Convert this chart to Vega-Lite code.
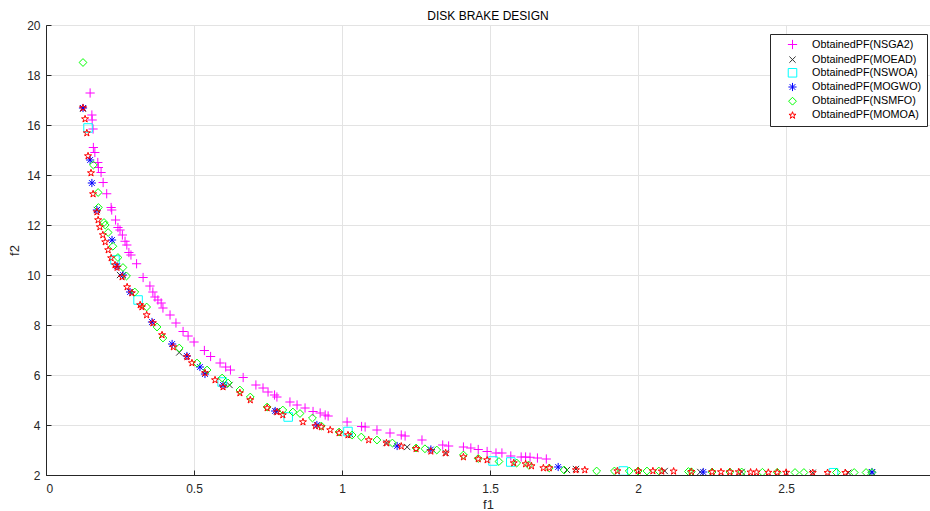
{
  "$schema": "https://vega.github.io/schema/vega-lite/v6.json",
  "width": 884,
  "height": 450,
  "autosize": {"type": "none"},
  "padding": {"left": 46, "top": 25, "right": 0, "bottom": 36},
  "background": "white",
  "title": {"text": "DISK BRAKE DESIGN", "fontSize": 12, "fontWeight": "normal", "font": "Liberation Sans", "color": "#000000", "offset": -4},
  "config": {
    "view": {"stroke": "#262626", "strokeWidth": 1},
    "font": "Liberation Sans",
    "axis": {"gridColor": "#e3e3e3", "gridWidth": 1, "domainColor": "#262626", "tickColor": "#262626", "labelColor": "#262626", "labelFontSize": 12, "titleFontSize": 13, "titleFontWeight": "normal", "titleColor": "#262626", "labelFont": "Liberation Sans", "titleFont": "Liberation Sans", "tickSize": -5}
  },
  "data": {"values": [
    {"f1":0.149,"f2":17.28,"s":"ObtainedPF(NSGA2)"},{"f1":0.155,"f2":16.4,"s":"ObtainedPF(NSGA2)"},{"f1":0.156,"f2":16.2,"s":"ObtainedPF(NSGA2)"},{"f1":0.159,"f2":15.84,"s":"ObtainedPF(NSGA2)"},{"f1":0.16,"f2":15.1,"s":"ObtainedPF(NSGA2)"},{"f1":0.165,"f2":14.9,"s":"ObtainedPF(NSGA2)"},{"f1":0.175,"f2":14.5,"s":"ObtainedPF(NSGA2)"},{"f1":0.177,"f2":14.3,"s":"ObtainedPF(NSGA2)"},{"f1":0.186,"f2":14.1,"s":"ObtainedPF(NSGA2)"},{"f1":0.193,"f2":13.7,"s":"ObtainedPF(NSGA2)"},{"f1":0.205,"f2":13.25,"s":"ObtainedPF(NSGA2)"},{"f1":0.22,"f2":12.7,"s":"ObtainedPF(NSGA2)"},{"f1":0.222,"f2":12.6,"s":"ObtainedPF(NSGA2)"},{"f1":0.235,"f2":12.2,"s":"ObtainedPF(NSGA2)"},{"f1":0.243,"f2":11.9,"s":"ObtainedPF(NSGA2)"},{"f1":0.25,"f2":11.8,"s":"ObtainedPF(NSGA2)"},{"f1":0.258,"f2":11.6,"s":"ObtainedPF(NSGA2)"},{"f1":0.267,"f2":11.35,"s":"ObtainedPF(NSGA2)"},{"f1":0.273,"f2":11.2,"s":"ObtainedPF(NSGA2)"},{"f1":0.28,"f2":10.9,"s":"ObtainedPF(NSGA2)"},{"f1":0.287,"f2":10.8,"s":"ObtainedPF(NSGA2)"},{"f1":0.306,"f2":10.45,"s":"ObtainedPF(NSGA2)"},{"f1":0.328,"f2":9.9,"s":"ObtainedPF(NSGA2)"},{"f1":0.351,"f2":9.56,"s":"ObtainedPF(NSGA2)"},{"f1":0.361,"f2":9.32,"s":"ObtainedPF(NSGA2)"},{"f1":0.368,"f2":9.12,"s":"ObtainedPF(NSGA2)"},{"f1":0.378,"f2":9.0,"s":"ObtainedPF(NSGA2)"},{"f1":0.389,"f2":8.88,"s":"ObtainedPF(NSGA2)"},{"f1":0.395,"f2":8.68,"s":"ObtainedPF(NSGA2)"},{"f1":0.419,"f2":8.4,"s":"ObtainedPF(NSGA2)"},{"f1":0.439,"f2":8.08,"s":"ObtainedPF(NSGA2)"},{"f1":0.463,"f2":7.74,"s":"ObtainedPF(NSGA2)"},{"f1":0.48,"f2":7.56,"s":"ObtainedPF(NSGA2)"},{"f1":0.5,"f2":7.32,"s":"ObtainedPF(NSGA2)"},{"f1":0.535,"f2":6.98,"s":"ObtainedPF(NSGA2)"},{"f1":0.556,"f2":6.74,"s":"ObtainedPF(NSGA2)"},{"f1":0.588,"f2":6.48,"s":"ObtainedPF(NSGA2)"},{"f1":0.607,"f2":6.32,"s":"ObtainedPF(NSGA2)"},{"f1":0.623,"f2":6.2,"s":"ObtainedPF(NSGA2)"},{"f1":0.666,"f2":5.9,"s":"ObtainedPF(NSGA2)"},{"f1":0.709,"f2":5.6,"s":"ObtainedPF(NSGA2)"},{"f1":0.733,"f2":5.48,"s":"ObtainedPF(NSGA2)"},{"f1":0.75,"f2":5.32,"s":"ObtainedPF(NSGA2)"},{"f1":0.772,"f2":5.2,"s":"ObtainedPF(NSGA2)"},{"f1":0.78,"f2":5.12,"s":"ObtainedPF(NSGA2)"},{"f1":0.824,"f2":4.92,"s":"ObtainedPF(NSGA2)"},{"f1":0.848,"f2":4.8,"s":"ObtainedPF(NSGA2)"},{"f1":0.875,"f2":4.68,"s":"ObtainedPF(NSGA2)"},{"f1":0.902,"f2":4.54,"s":"ObtainedPF(NSGA2)"},{"f1":0.926,"f2":4.48,"s":"ObtainedPF(NSGA2)"},{"f1":0.943,"f2":4.4,"s":"ObtainedPF(NSGA2)"},{"f1":0.953,"f2":4.36,"s":"ObtainedPF(NSGA2)"},{"f1":1.017,"f2":4.12,"s":"ObtainedPF(NSGA2)"},{"f1":1.066,"f2":3.94,"s":"ObtainedPF(NSGA2)"},{"f1":1.078,"f2":3.92,"s":"ObtainedPF(NSGA2)"},{"f1":1.118,"f2":3.8,"s":"ObtainedPF(NSGA2)"},{"f1":1.162,"f2":3.68,"s":"ObtainedPF(NSGA2)"},{"f1":1.2,"f2":3.6,"s":"ObtainedPF(NSGA2)"},{"f1":1.213,"f2":3.56,"s":"ObtainedPF(NSGA2)"},{"f1":1.27,"f2":3.4,"s":"ObtainedPF(NSGA2)"},{"f1":1.34,"f2":3.2,"s":"ObtainedPF(NSGA2)"},{"f1":1.36,"f2":3.16,"s":"ObtainedPF(NSGA2)"},{"f1":1.41,"f2":3.12,"s":"ObtainedPF(NSGA2)"},{"f1":1.435,"f2":3.08,"s":"ObtainedPF(NSGA2)"},{"f1":1.46,"f2":3.02,"s":"ObtainedPF(NSGA2)"},{"f1":1.49,"f2":2.94,"s":"ObtainedPF(NSGA2)"},{"f1":1.52,"f2":2.88,"s":"ObtainedPF(NSGA2)"},{"f1":1.54,"f2":2.88,"s":"ObtainedPF(NSGA2)"},{"f1":1.57,"f2":2.76,"s":"ObtainedPF(NSGA2)"},{"f1":1.605,"f2":2.72,"s":"ObtainedPF(NSGA2)"},{"f1":1.62,"f2":2.72,"s":"ObtainedPF(NSGA2)"},{"f1":1.635,"f2":2.71,"s":"ObtainedPF(NSGA2)"},{"f1":1.66,"f2":2.68,"s":"ObtainedPF(NSGA2)"},{"f1":1.69,"f2":2.64,"s":"ObtainedPF(NSGA2)"},

    {"f1":0.125,"f2":16.65,"s":"ObtainedPF(MOEAD)"},{"f1":0.172,"f2":12.6,"s":"ObtainedPF(MOEAD)"},{"f1":0.25,"f2":10.0,"s":"ObtainedPF(MOEAD)"},{"f1":0.45,"f2":6.9,"s":"ObtainedPF(MOEAD)"},{"f1":0.62,"f2":5.6,"s":"ObtainedPF(MOEAD)"},{"f1":0.78,"f2":4.55,"s":"ObtainedPF(MOEAD)"},{"f1":1.03,"f2":3.6,"s":"ObtainedPF(MOEAD)"},{"f1":1.15,"f2":3.28,"s":"ObtainedPF(MOEAD)"},{"f1":1.22,"f2":3.12,"s":"ObtainedPF(MOEAD)"},{"f1":1.35,"f2":2.88,"s":"ObtainedPF(MOEAD)"},{"f1":1.76,"f2":2.2,"s":"ObtainedPF(MOEAD)"},{"f1":1.79,"f2":2.24,"s":"ObtainedPF(MOEAD)"},{"f1":2.09,"f2":2.16,"s":"ObtainedPF(MOEAD)"},{"f1":2.21,"f2":2.12,"s":"ObtainedPF(MOEAD)"},{"f1":2.35,"f2":2.12,"s":"ObtainedPF(MOEAD)"},{"f1":2.59,"f2":2.09,"s":"ObtainedPF(MOEAD)"},{"f1":2.71,"f2":2.09,"s":"ObtainedPF(MOEAD)"},{"f1":2.79,"f2":2.1,"s":"ObtainedPF(MOEAD)"},

    {"f1":0.142,"f2":15.88,"s":"ObtainedPF(NSWOA)"},{"f1":0.233,"f2":10.6,"s":"ObtainedPF(NSWOA)"},{"f1":0.311,"f2":9.0,"s":"ObtainedPF(NSWOA)"},{"f1":0.595,"f2":5.72,"s":"ObtainedPF(NSWOA)"},{"f1":0.818,"f2":4.32,"s":"ObtainedPF(NSWOA)"},{"f1":1.02,"f2":3.74,"s":"ObtainedPF(NSWOA)"},{"f1":1.51,"f2":2.56,"s":"ObtainedPF(NSWOA)"},{"f1":1.57,"f2":2.52,"s":"ObtainedPF(NSWOA)"},{"f1":1.95,"f2":2.16,"s":"ObtainedPF(NSWOA)"},{"f1":2.66,"f2":2.09,"s":"ObtainedPF(NSWOA)"},

    {"f1":0.125,"f2":16.68,"s":"ObtainedPF(MOGWO)"},{"f1":0.149,"f2":14.6,"s":"ObtainedPF(MOGWO)"},{"f1":0.155,"f2":13.68,"s":"ObtainedPF(MOGWO)"},{"f1":0.172,"f2":12.6,"s":"ObtainedPF(MOGWO)"},{"f1":0.223,"f2":11.4,"s":"ObtainedPF(MOGWO)"},{"f1":0.24,"f2":10.35,"s":"ObtainedPF(MOGWO)"},{"f1":0.26,"f2":10.0,"s":"ObtainedPF(MOGWO)"},{"f1":0.284,"f2":9.32,"s":"ObtainedPF(MOGWO)"},{"f1":0.358,"f2":8.12,"s":"ObtainedPF(MOGWO)"},{"f1":0.426,"f2":7.24,"s":"ObtainedPF(MOGWO)"},{"f1":0.476,"f2":6.76,"s":"ObtainedPF(MOGWO)"},{"f1":0.52,"f2":6.32,"s":"ObtainedPF(MOGWO)"},{"f1":0.537,"f2":6.04,"s":"ObtainedPF(MOGWO)"},{"f1":0.598,"f2":5.6,"s":"ObtainedPF(MOGWO)"},{"f1":0.774,"f2":4.56,"s":"ObtainedPF(MOGWO)"},{"f1":0.915,"f2":4.0,"s":"ObtainedPF(MOGWO)"},{"f1":1.186,"f2":3.16,"s":"ObtainedPF(MOGWO)"},{"f1":1.30,"f2":3.02,"s":"ObtainedPF(MOGWO)"},{"f1":1.73,"f2":2.32,"s":"ObtainedPF(MOGWO)"},{"f1":2.22,"f2":2.12,"s":"ObtainedPF(MOGWO)"},{"f1":2.79,"f2":2.12,"s":"ObtainedPF(MOGWO)"},

    {"f1":0.125,"f2":18.5,"s":"ObtainedPF(NSMFO)"},{"f1":0.16,"f2":14.4,"s":"ObtainedPF(NSMFO)"},{"f1":0.176,"f2":13.3,"s":"ObtainedPF(NSMFO)"},{"f1":0.177,"f2":12.7,"s":"ObtainedPF(NSMFO)"},{"f1":0.196,"f2":12.1,"s":"ObtainedPF(NSMFO)"},{"f1":0.2,"f2":12.0,"s":"ObtainedPF(NSMFO)"},{"f1":0.21,"f2":11.7,"s":"ObtainedPF(NSMFO)"},{"f1":0.226,"f2":11.15,"s":"ObtainedPF(NSMFO)"},{"f1":0.243,"f2":10.7,"s":"ObtainedPF(NSMFO)"},{"f1":0.26,"f2":10.3,"s":"ObtainedPF(NSMFO)"},{"f1":0.272,"f2":9.96,"s":"ObtainedPF(NSMFO)"},{"f1":0.30,"f2":9.32,"s":"ObtainedPF(NSMFO)"},{"f1":0.34,"f2":8.72,"s":"ObtainedPF(NSMFO)"},{"f1":0.375,"f2":7.92,"s":"ObtainedPF(NSMFO)"},{"f1":0.395,"f2":7.48,"s":"ObtainedPF(NSMFO)"},{"f1":0.45,"f2":7.08,"s":"ObtainedPF(NSMFO)"},{"f1":0.51,"f2":6.48,"s":"ObtainedPF(NSMFO)"},{"f1":0.544,"f2":6.2,"s":"ObtainedPF(NSMFO)"},{"f1":0.595,"f2":5.88,"s":"ObtainedPF(NSMFO)"},{"f1":0.615,"f2":5.68,"s":"ObtainedPF(NSMFO)"},{"f1":0.655,"f2":5.4,"s":"ObtainedPF(NSMFO)"},{"f1":0.69,"f2":5.12,"s":"ObtainedPF(NSMFO)"},{"f1":0.747,"f2":4.72,"s":"ObtainedPF(NSMFO)"},{"f1":0.80,"f2":4.6,"s":"ObtainedPF(NSMFO)"},{"f1":0.834,"f2":4.52,"s":"ObtainedPF(NSMFO)"},{"f1":0.858,"f2":4.46,"s":"ObtainedPF(NSMFO)"},{"f1":0.9,"f2":4.28,"s":"ObtainedPF(NSMFO)"},{"f1":0.93,"f2":3.96,"s":"ObtainedPF(NSMFO)"},{"f1":0.99,"f2":3.72,"s":"ObtainedPF(NSMFO)"},{"f1":1.034,"f2":3.6,"s":"ObtainedPF(NSMFO)"},{"f1":1.065,"f2":3.52,"s":"ObtainedPF(NSMFO)"},{"f1":1.118,"f2":3.4,"s":"ObtainedPF(NSMFO)"},{"f1":1.17,"f2":3.28,"s":"ObtainedPF(NSMFO)"},{"f1":1.25,"f2":3.08,"s":"ObtainedPF(NSMFO)"},{"f1":1.28,"f2":3.05,"s":"ObtainedPF(NSMFO)"},{"f1":1.32,"f2":3.0,"s":"ObtainedPF(NSMFO)"},{"f1":1.41,"f2":2.8,"s":"ObtainedPF(NSMFO)"},{"f1":1.46,"f2":2.66,"s":"ObtainedPF(NSMFO)"},{"f1":1.53,"f2":2.54,"s":"ObtainedPF(NSMFO)"},{"f1":1.59,"f2":2.48,"s":"ObtainedPF(NSMFO)"},{"f1":1.63,"f2":2.4,"s":"ObtainedPF(NSMFO)"},{"f1":1.70,"f2":2.28,"s":"ObtainedPF(NSMFO)"},{"f1":1.75,"f2":2.2,"s":"ObtainedPF(NSMFO)"},{"f1":1.86,"f2":2.16,"s":"ObtainedPF(NSMFO)"},{"f1":1.92,"f2":2.16,"s":"ObtainedPF(NSMFO)"},{"f1":1.97,"f2":2.16,"s":"ObtainedPF(NSMFO)"},{"f1":2.0,"f2":2.16,"s":"ObtainedPF(NSMFO)"},{"f1":2.03,"f2":2.16,"s":"ObtainedPF(NSMFO)"},{"f1":2.07,"f2":2.16,"s":"ObtainedPF(NSMFO)"},{"f1":2.17,"f2":2.14,"s":"ObtainedPF(NSMFO)"},{"f1":2.18,"f2":2.13,"s":"ObtainedPF(NSMFO)"},{"f1":2.25,"f2":2.12,"s":"ObtainedPF(NSMFO)"},{"f1":2.31,"f2":2.12,"s":"ObtainedPF(NSMFO)"},{"f1":2.35,"f2":2.12,"s":"ObtainedPF(NSMFO)"},{"f1":2.42,"f2":2.11,"s":"ObtainedPF(NSMFO)"},{"f1":2.47,"f2":2.11,"s":"ObtainedPF(NSMFO)"},{"f1":2.53,"f2":2.1,"s":"ObtainedPF(NSMFO)"},{"f1":2.56,"f2":2.1,"s":"ObtainedPF(NSMFO)"},{"f1":2.67,"f2":2.1,"s":"ObtainedPF(NSMFO)"},{"f1":2.73,"f2":2.1,"s":"ObtainedPF(NSMFO)"},{"f1":2.77,"f2":2.1,"s":"ObtainedPF(NSMFO)"},{"f1":2.79,"f2":2.1,"s":"ObtainedPF(NSMFO)"},

    {"f1":0.125,"f2":16.68,"s":"ObtainedPF(MOMOA)"},{"f1":0.132,"f2":16.24,"s":"ObtainedPF(MOMOA)"},{"f1":0.138,"f2":15.68,"s":"ObtainedPF(MOMOA)"},{"f1":0.142,"f2":14.76,"s":"ObtainedPF(MOMOA)"},{"f1":0.152,"f2":14.08,"s":"ObtainedPF(MOMOA)"},{"f1":0.159,"f2":13.24,"s":"ObtainedPF(MOMOA)"},{"f1":0.172,"f2":12.52,"s":"ObtainedPF(MOMOA)"},{"f1":0.176,"f2":12.2,"s":"ObtainedPF(MOMOA)"},{"f1":0.182,"f2":11.92,"s":"ObtainedPF(MOMOA)"},{"f1":0.192,"f2":11.6,"s":"ObtainedPF(MOMOA)"},{"f1":0.2,"f2":11.32,"s":"ObtainedPF(MOMOA)"},{"f1":0.21,"f2":11.0,"s":"ObtainedPF(MOMOA)"},{"f1":0.22,"f2":10.68,"s":"ObtainedPF(MOMOA)"},{"f1":0.233,"f2":10.4,"s":"ObtainedPF(MOMOA)"},{"f1":0.24,"f2":10.3,"s":"ObtainedPF(MOMOA)"},{"f1":0.257,"f2":9.92,"s":"ObtainedPF(MOMOA)"},{"f1":0.274,"f2":9.52,"s":"ObtainedPF(MOMOA)"},{"f1":0.29,"f2":9.28,"s":"ObtainedPF(MOMOA)"},{"f1":0.318,"f2":8.8,"s":"ObtainedPF(MOMOA)"},{"f1":0.324,"f2":8.72,"s":"ObtainedPF(MOMOA)"},{"f1":0.34,"f2":8.4,"s":"ObtainedPF(MOMOA)"},{"f1":0.361,"f2":8.08,"s":"ObtainedPF(MOMOA)"},{"f1":0.392,"f2":7.6,"s":"ObtainedPF(MOMOA)"},{"f1":0.43,"f2":7.12,"s":"ObtainedPF(MOMOA)"},{"f1":0.476,"f2":6.72,"s":"ObtainedPF(MOMOA)"},{"f1":0.493,"f2":6.48,"s":"ObtainedPF(MOMOA)"},{"f1":0.537,"f2":6.08,"s":"ObtainedPF(MOMOA)"},{"f1":0.571,"f2":5.8,"s":"ObtainedPF(MOMOA)"},{"f1":0.598,"f2":5.52,"s":"ObtainedPF(MOMOA)"},{"f1":0.655,"f2":5.28,"s":"ObtainedPF(MOMOA)"},{"f1":0.69,"f2":5.0,"s":"ObtainedPF(MOMOA)"},{"f1":0.747,"f2":4.68,"s":"ObtainedPF(MOMOA)"},{"f1":0.78,"f2":4.52,"s":"ObtainedPF(MOMOA)"},{"f1":0.80,"f2":4.4,"s":"ObtainedPF(MOMOA)"},{"f1":0.868,"f2":4.12,"s":"ObtainedPF(MOMOA)"},{"f1":0.91,"f2":3.96,"s":"ObtainedPF(MOMOA)"},{"f1":0.93,"f2":3.92,"s":"ObtainedPF(MOMOA)"},{"f1":0.96,"f2":3.8,"s":"ObtainedPF(MOMOA)"},{"f1":0.99,"f2":3.68,"s":"ObtainedPF(MOMOA)"},{"f1":1.02,"f2":3.6,"s":"ObtainedPF(MOMOA)"},{"f1":1.09,"f2":3.4,"s":"ObtainedPF(MOMOA)"},{"f1":1.15,"f2":3.28,"s":"ObtainedPF(MOMOA)"},{"f1":1.2,"f2":3.15,"s":"ObtainedPF(MOMOA)"},{"f1":1.25,"f2":3.05,"s":"ObtainedPF(MOMOA)"},{"f1":1.3,"f2":2.95,"s":"ObtainedPF(MOMOA)"},{"f1":1.35,"f2":2.88,"s":"ObtainedPF(MOMOA)"},{"f1":1.41,"f2":2.72,"s":"ObtainedPF(MOMOA)"},{"f1":1.46,"f2":2.64,"s":"ObtainedPF(MOMOA)"},{"f1":1.49,"f2":2.6,"s":"ObtainedPF(MOMOA)"},{"f1":1.58,"f2":2.48,"s":"ObtainedPF(MOMOA)"},{"f1":1.62,"f2":2.44,"s":"ObtainedPF(MOMOA)"},{"f1":1.64,"f2":2.36,"s":"ObtainedPF(MOMOA)"},{"f1":1.68,"f2":2.28,"s":"ObtainedPF(MOMOA)"},{"f1":1.70,"f2":2.28,"s":"ObtainedPF(MOMOA)"},{"f1":1.79,"f2":2.2,"s":"ObtainedPF(MOMOA)"},{"f1":1.82,"f2":2.2,"s":"ObtainedPF(MOMOA)"},{"f1":1.93,"f2":2.16,"s":"ObtainedPF(MOMOA)"},{"f1":2.0,"f2":2.16,"s":"ObtainedPF(MOMOA)"},{"f1":2.05,"f2":2.16,"s":"ObtainedPF(MOMOA)"},{"f1":2.08,"f2":2.15,"s":"ObtainedPF(MOMOA)"},{"f1":2.12,"f2":2.15,"s":"ObtainedPF(MOMOA)"},{"f1":2.18,"f2":2.13,"s":"ObtainedPF(MOMOA)"},{"f1":2.25,"f2":2.12,"s":"ObtainedPF(MOMOA)"},{"f1":2.28,"f2":2.12,"s":"ObtainedPF(MOMOA)"},{"f1":2.31,"f2":2.12,"s":"ObtainedPF(MOMOA)"},{"f1":2.34,"f2":2.12,"s":"ObtainedPF(MOMOA)"},{"f1":2.38,"f2":2.11,"s":"ObtainedPF(MOMOA)"},{"f1":2.40,"f2":2.11,"s":"ObtainedPF(MOMOA)"},{"f1":2.44,"f2":2.1,"s":"ObtainedPF(MOMOA)"},{"f1":2.47,"f2":2.1,"s":"ObtainedPF(MOMOA)"},{"f1":2.50,"f2":2.1,"s":"ObtainedPF(MOMOA)"},{"f1":2.59,"f2":2.09,"s":"ObtainedPF(MOMOA)"},{"f1":2.64,"f2":2.09,"s":"ObtainedPF(MOMOA)"},{"f1":2.70,"f2":2.09,"s":"ObtainedPF(MOMOA)"}
  ]},
  "mark": {"type": "point", "filled": false, "strokeWidth": 1, "opacity": 1, "clip": true},
  "encoding": {
    "x": {"field": "f1", "type": "quantitative", "title": "f1", "scale": {"domain": [0, 2.986], "nice": false, "zero": false}, "axis": {"values": [0, 0.5, 1, 1.5, 2, 2.5], "format": "~g", "labelPadding": 13, "titlePadding": 4}},
    "y": {"field": "f2", "type": "quantitative", "title": "f2", "scale": {"domain": [2, 20], "nice": false, "zero": false}, "axis": {"values": [2, 4, 6, 8, 10, 12, 14, 16, 18, 20], "format": "~g", "labelPadding": 11, "titlePadding": 5}},
    "color": {"field": "s", "type": "nominal", "title": null,
      "scale": {"domain": ["ObtainedPF(NSGA2)", "ObtainedPF(MOEAD)", "ObtainedPF(NSWOA)", "ObtainedPF(MOGWO)", "ObtainedPF(NSMFO)", "ObtainedPF(MOMOA)"],
                "range": ["#ff00ff", "#333333", "#00ffff", "#0000ff", "#00ff00", "#ff0000"]},
      "legend": {"orient": "none", "legendX": 724, "legendY": 9, "strokeColor": "#262626", "fillColor": "white", "padding": 5, "labelFontSize": 10.8, "labelColor": "#000000", "labelFont": "Liberation Sans", "labelOffset": 14, "symbolOffset": 12, "rowPadding": 1.2, "symbolStrokeWidth": 1, "symbolSize": 64}},
    "shape": {"field": "s", "type": "nominal", "title": null,
      "scale": {"domain": ["ObtainedPF(NSGA2)", "ObtainedPF(MOEAD)", "ObtainedPF(NSWOA)", "ObtainedPF(MOGWO)", "ObtainedPF(NSMFO)", "ObtainedPF(MOMOA)"],
                "range": ["M-1,0L1,0M0,-1L0,1", "M-0.7,-0.7L0.7,0.7M-0.7,0.7L0.7,-0.7", "square", "M-1,0L1,0M0,-1L0,1M-0.7,-0.7L0.7,0.7M-0.7,0.7L0.7,-0.7", "diamond", "M0,-1L0.225,-0.309L0.951,-0.309L0.363,0.118L0.588,0.809L0,0.382L-0.588,0.809L-0.363,0.118L-0.951,-0.309L-0.225,-0.309Z"]}},
    "size": {"field": "s", "type": "nominal", "legend": null,
      "scale": {"domain": ["ObtainedPF(NSGA2)", "ObtainedPF(MOEAD)", "ObtainedPF(NSWOA)", "ObtainedPF(MOGWO)", "ObtainedPF(NSMFO)", "ObtainedPF(MOMOA)"],
                "range": [85, 55, 42, 70, 110, 95]}},
    "order": {"value": 0}
  }
}
